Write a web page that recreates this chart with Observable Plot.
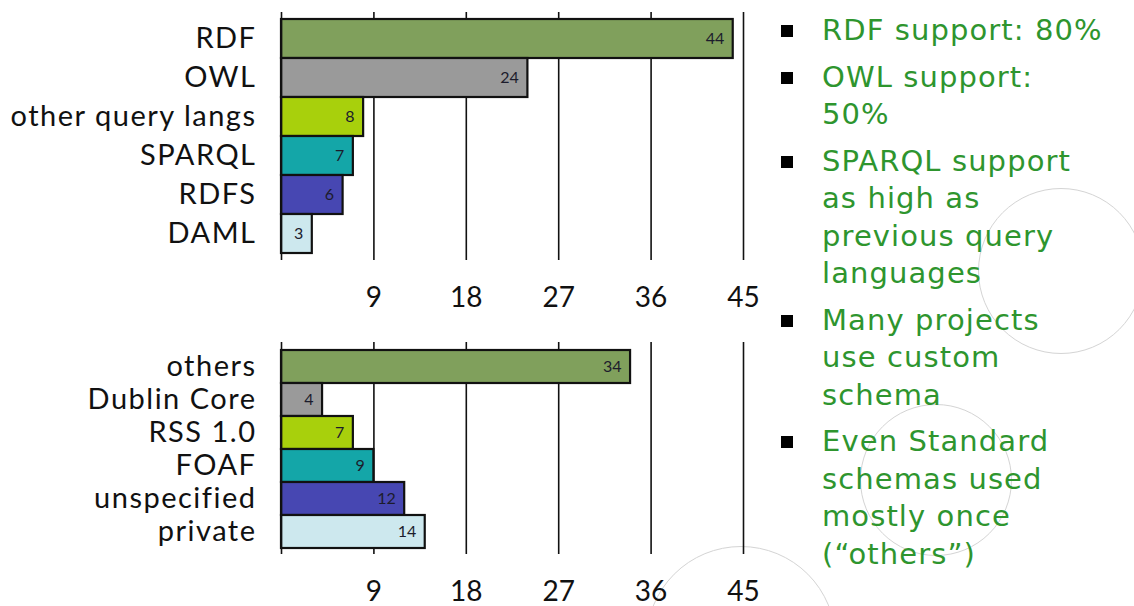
<!DOCTYPE html>
<html>
<head>
<meta charset="utf-8">
<script src="https://cdn.jsdelivr.net/npm/d3@7"></script>
<script src="https://cdn.jsdelivr.net/npm/@observablehq/plot@0.6"></script>
<style>
  html, body { margin: 0; padding: 0; background: #fff; }
  #page { position: relative; width: 1134px; height: 606px; overflow: hidden; background: #fff; }
  .deco { position: absolute; border: 1.5px solid #d4d4d4; border-radius: 50%; box-sizing: border-box; }
  #top, #bottom { position: absolute; left: 0; }
  #top { top: 0; }
  #bottom { top: 330px; }
  #top svg, #bottom svg { overflow: visible; }
  #notes { position: absolute; left: 778px; top: 12px; width: 356px; margin: 0; padding: 0; list-style: none;
           font-family: "DejaVu Sans", Verdana, sans-serif; font-size: 29px; letter-spacing: 1.1px;
           line-height: 37.5px; color: #2e952e; }
  #notes li { position: relative; padding-left: 44px; margin: 0 0 9px 0; }
  #notes li::before { content: ""; position: absolute; left: 3px; top: 13px; width: 12px; height: 12px; background: #000; }
</style>
</head>
<body>
<div id="page">
  <div class="deco" style="left:978px; top:188px; width:166px; height:166px;"></div>
  <div class="deco" style="left:860px; top:404px; width:152px; height:152px;"></div>
  <div class="deco" style="left:646px; top:546px; width:190px; height:190px;"></div>
  <div id="top"></div>
  <div id="bottom"></div>
  <ul id="notes"></ul>
</div>
<script>
const langCats = ["RDF", "OWL", "other query langs", "SPARQL", "RDFS", "DAML"];
const langVals = [44, 24, 8, 7, 6, 3];
const schemaCats = ["others", "Dublin Core", "RSS 1.0", "FOAF", "unspecified", "private"];
const schemaVals = [34, 4, 7, 9, 12, 14];
const barColors = ["#80a05c", "#9a9a9a", "#a8d00c", "#14a6a8", "#4747b2", "#cde8ee"];
const xTicks = [9, 18, 27, 36, 45];
const notes = [
  "RDF support: 80%",
  "OWL support:<br>50%",
  "SPARQL support<br>as high as<br>previous query<br>languages",
  "Many projects<br>use custom<br>schema",
  "Even Standard<br>schemas used<br>mostly once<br>(“others”)"
];

function makeChart(cats, vals, o) {
  const data = cats.map((c, i) => ({cat: c, value: vals[i]}));
  return Plot.plot({
    width: 770,
    height: o.height,
    marginLeft: o.left,
    marginRight: 770 - 743,
    marginTop: 12,
    marginBottom: o.bottom,
    style: {fontFamily: "Lato, 'Open Sans', sans-serif", fontSize: "29px", color: "#111",
            background: "transparent", overflow: "visible"},
    x: {domain: [0, 45], ticks: xTicks, label: null},
    y: {domain: cats, padding: 0, insetTop: 7, insetBottom: o.insetBottom, label: null},
    color: {domain: cats, range: barColors},
    marks: [
      Plot.ruleX(xTicks, {stroke: "#111", strokeWidth: 1.6}),
      Plot.barX(data, {x: "value", y: "cat", fill: "cat", stroke: "#111", strokeWidth: 2.2}),
      Plot.text(data, {x: "value", y: "cat", text: d => String(d.value), textAnchor: "end", dx: -9,
                       fontSize: 16, fill: "#1c1c2c"}),
      Plot.ruleX([0], {stroke: "#111", strokeWidth: 1.6}),
      Plot.axisX({ticks: xTicks, tickSize: 0, tickPadding: o.tickPad, fontSize: 28, label: null}),
      Plot.axisY({tickSize: 0, tickPadding: 25, fontSize: 29, label: null})
    ]
  });
}

document.getElementById("top").appendChild(
  makeChart(langCats, langVals, {height: 320, bottom: 60, left: 281, insetBottom: 7, tickPad: 27}));
document.getElementById("bottom").appendChild(
  makeChart(schemaCats, schemaVals, {height: 276, bottom: 52, left: 281, insetBottom: 6, tickPad: 27}));

document.querySelectorAll("#top svg g[aria-label='y-axis tick label'] text, #bottom svg g[aria-label='y-axis tick label'] text")
  .forEach(t => t.setAttribute("letter-spacing", "1.5px"));

const ul = document.getElementById("notes");
notes.forEach(n => { const li = document.createElement("li"); li.innerHTML = n; ul.appendChild(li); });
</script>
</body>
</html>
